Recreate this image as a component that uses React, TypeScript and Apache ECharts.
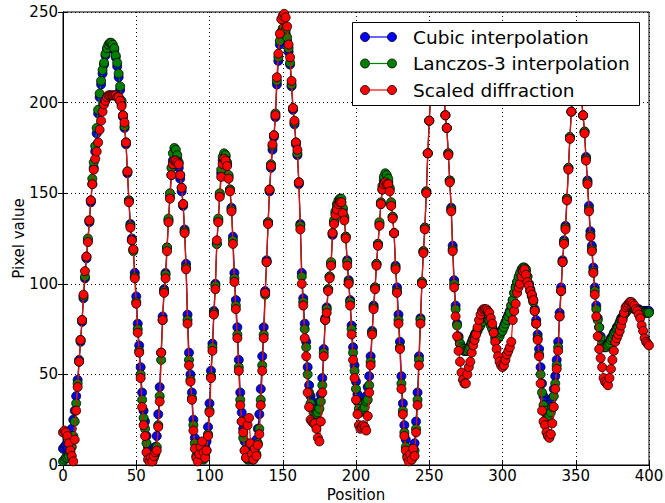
import React, { useEffect, useRef } from "react";
import * as echarts from "echarts";

// Series names and colours
const seriesNames = ["Cubic interpolation", "Lanczos-3 interpolation", "Scaled diffraction"];
const seriesColors = ["#0000ff", "#008000", "#ff0000"];

// Axis ticks
const xTicks = [0, 50, 100, 150, 200, 250, 300, 350, 400];
const yTicks = [0, 50, 100, 150, 200, 250];

// Pixel values at positions 0..400 (one value per position)
const cubic = [
  9, 10, 11, 10, 12, 16, 20, 25, 30, 38,
  47, 58, 68, 79, 92, 103, 114, 124, 134, 145,
  155, 164, 173, 183, 194, 203, 210, 216, 221, 226,
  229, 231, 232, 232, 231, 229, 225, 220, 214, 207,
  199, 192, 186, 177, 161, 146, 133, 125, 119, 106,
  93, 78, 66, 54, 40, 30, 24, 16, 10, 7,
  6, 6, 8, 10, 16, 28, 43, 62, 82, 97,
  106, 120, 135, 148, 160, 168, 172, 172, 169, 164,
  158, 151, 143, 130, 111, 83, 62, 50, 40, 25,
  15, 9, 7, 8, 10, 9, 8, 10, 13, 21,
  34, 52, 67, 85, 100, 122, 135, 149, 161, 168,
  171, 170, 166, 159, 152, 142, 126, 106, 91, 76,
  58, 40, 29, 20, 13, 9, 8, 8, 9, 8,
  9, 11, 14, 20, 28, 42, 60, 76, 96, 113,
  134, 151, 164, 174, 181, 192, 210, 223, 232, 236,
  238, 239, 238, 234, 228, 221, 209, 196, 188, 177,
  171, 155, 133, 106, 92, 78, 68, 54, 44, 38,
  35, 33, 32, 32, 33, 35, 39, 48, 64, 81,
  87, 97, 104, 111, 127, 134, 139, 142, 144, 145,
  145, 141, 136, 126, 113, 102, 91, 77, 65, 55,
  46, 39, 35, 33, 33, 34, 35, 38, 43, 49,
  60, 74, 88, 98, 111, 122, 133, 144, 152, 157,
  159, 158, 156, 152, 144, 137, 128, 110, 98, 83,
  68, 49, 34, 22, 14, 9, 7, 8, 7, 10,
  12, 24, 40, 60, 81, 101, 118, 131, 151, 172,
  190, 205, 217, 226, 232, 235, 236, 234, 228, 218,
  205, 193, 186, 172, 157, 142, 121, 102, 88, 78,
  71, 67, 65, 64, 63, 63, 64, 65, 66, 68,
  70, 72, 73, 75, 76, 78, 79, 81, 82, 83,
  83, 81, 78, 76, 74, 72, 71, 71, 72, 74,
  75, 77, 79, 81, 83, 85, 88, 91, 95, 98,
  101, 103, 105, 107, 108, 108, 107, 104, 100, 97,
  94, 91, 86, 80, 72, 64, 54, 45, 38, 35,
  33, 32, 32, 34, 37, 42, 49, 58, 68, 84,
  98, 113, 124, 132, 147, 164, 181, 195, 205, 211,
  214, 214, 211, 206, 201, 193, 184, 170, 157, 143,
  129, 121, 109, 98, 88, 81, 76, 71, 67, 66,
  66, 66, 67, 68, 70, 71, 73, 74, 76, 77,
  79, 81, 82, 84, 85, 86, 87, 87, 87, 87,
  87, 86, 86, 86, 85, 85, 85, 85, 85, 85,
  85,
];

const lanczos = [
  2, 3, 4, 4, 5, 7, 10, 16, 24, 34,
  45, 57, 69, 80, 93, 104, 115, 125, 135, 146,
  158, 167, 176, 186, 196, 205, 212, 218, 222, 227,
  230, 232, 233, 233, 232, 230, 226, 222, 216, 209,
  201, 193, 187, 178, 162, 146, 132, 124, 118, 104,
  90, 75, 63, 50, 36, 26, 20, 12, 6, 3,
  3, 2, 4, 6, 10, 22, 38, 58, 80, 96,
  105, 120, 136, 150, 164, 172, 175, 174, 171, 167,
  160, 153, 144, 129, 109, 80, 58, 47, 37, 22,
  12, 5, 3, 4, 6, 4, 3, 5, 8, 17,
  30, 49, 65, 84, 99, 122, 136, 150, 163, 170,
  172, 171, 167, 160, 152, 141, 124, 103, 88, 72,
  54, 36, 24, 15, 8, 4, 3, 3, 4, 3,
  3, 5, 6, 12, 20, 36, 55, 72, 94, 112,
  134, 152, 166, 176, 182, 194, 212, 225, 234, 239,
  241, 241, 240, 236, 230, 222, 210, 197, 189, 178,
  172, 156, 132, 104, 90, 75, 65, 50, 40, 34,
  31, 29, 28, 28, 29, 31, 35, 44, 62, 80,
  86, 97, 104, 112, 128, 135, 140, 144, 146, 147,
  147, 142, 137, 126, 112, 101, 90, 75, 62, 52,
  42, 35, 31, 29, 30, 31, 32, 35, 36, 44,
  57, 73, 87, 98, 111, 122, 134, 145, 154, 159,
  161, 160, 158, 153, 145, 137, 128, 109, 96, 80,
  65, 45, 30, 18, 10, 5, 3, 4, 3, 6,
  8, 20, 36, 58, 80, 101, 118, 131, 151, 172,
  190, 205, 217, 226, 232, 235, 236, 234, 228, 218,
  205, 193, 186, 172, 157, 141, 119, 100, 86, 77,
  70, 67, 65, 64, 63, 63, 63, 64, 65, 67,
  69, 71, 73, 74, 76, 77, 79, 81, 82, 83,
  83, 80, 77, 75, 73, 70, 69, 70, 71, 73,
  74, 76, 78, 80, 82, 84, 88, 91, 95, 98,
  101, 104, 106, 108, 109, 109, 108, 104, 100, 96,
  93, 90, 85, 78, 70, 61, 50, 40, 33, 30,
  28, 27, 27, 29, 32, 38, 45, 55, 65, 82,
  96, 112, 123, 131, 147, 164, 181, 195, 205, 211,
  214, 214, 211, 206, 201, 193, 184, 169, 156, 141,
  127, 119, 107, 96, 86, 80, 76, 70, 66, 65,
  65, 65, 66, 67, 69, 70, 72, 73, 75, 76,
  78, 80, 81, 83, 84, 85, 86, 87, 87, 87,
  86, 86, 85, 85, 85, 84, 84, 84, 84, 84,
  84,
];

const diffraction = [
  18, 19, 18, 16, 12, 8, 5, 2, 14, 30,
  43, 57, 69, 80, 94, 107, 115, 123, 135, 146,
  155, 163, 169, 173, 178, 185, 190, 195, 199, 201,
  203, 204, 204, 204, 204, 204, 204, 203, 203, 201,
  198, 193, 189, 178, 162, 145, 131, 124, 119, 103,
  89, 73, 62, 48, 32, 22, 16, 7, 3, 2,
  4, 2, 5, 7, 8, 21, 35, 62, 80, 95,
  103, 118, 134, 147, 160, 166, 168, 168, 167, 166,
  160, 153, 144, 128, 108, 78, 55, 46, 36, 19,
  9, 4, 2, 6, 10, 13, 7, 4, 8, 16,
  29, 48, 63, 83, 97, 124, 134, 148, 159, 166,
  169, 168, 165, 158, 151, 140, 122, 101, 86, 70,
  52, 33, 24, 18, 8, 4, 22, 26, 12, 6,
  3, 9, 5, 11, 17, 33, 52, 70, 95, 112,
  133, 152, 165, 177, 182, 193, 214, 227, 238, 246,
  248, 249, 247, 242, 232, 225, 212, 197, 190, 178,
  174, 156, 130, 100, 88, 70, 60, 40, 32, 25,
  24, 23, 23, 20, 15, 13, 24, 40, 60, 80,
  84, 96, 103, 110, 128, 133, 138, 141, 144, 145,
  145, 139, 135, 125, 110, 100, 88, 72, 58, 48,
  36, 28, 22, 20, 21, 22, 21, 19, 27, 40,
  55, 72, 86, 97, 110, 121, 132, 144, 152, 155,
  156, 155, 155, 151, 143, 136, 128, 108, 95, 78,
  64, 42, 28, 16, 8, 4, 2, 6, 3, 9,
  5, 18, 33, 55, 78, 100, 117, 130, 150, 172,
  190, 205, 217, 226, 232, 235, 236, 234, 228, 218,
  205, 193, 186, 171, 156, 140, 118, 98, 82, 71,
  63, 57, 51, 47, 45, 45, 50, 54, 57, 62,
  66, 69, 72, 76, 80, 83, 85, 86, 86, 86,
  85, 84, 81, 78, 73, 68, 64, 60, 57, 55,
  54, 55, 58, 61, 63, 65, 68, 80, 85, 89,
  95, 98, 100, 104, 107, 108, 105, 101, 99, 96,
  94, 91, 85, 78, 69, 60, 45, 30, 24, 22,
  18, 16, 15, 17, 23, 32, 42, 53, 63, 82,
  96, 112, 122, 130, 146, 163, 180, 195, 205, 211,
  214, 214, 211, 206, 201, 193, 183, 168, 155, 140,
  126, 118, 106, 94, 82, 71, 64, 59, 54, 48,
  46, 45, 44, 48, 53, 58, 63, 68, 70, 72,
  74, 77, 80, 84, 87, 88, 89, 90, 90, 89,
  88, 86, 85, 83, 81, 77, 74, 70, 68, 67,
  66,
];

const seriesValues = [cubic, lanczos, diffraction];

const FONT = '"DejaVu Sans", "Liberation Sans", sans-serif';

export default function App() {
  const ref = useRef<HTMLDivElement>(null);

  useEffect(() => {
    if (!ref.current) return;
    document.body.style.margin = "0";
    const chart = echarts.init(ref.current, undefined, { renderer: "svg", width: 665, height: 503 });

    const axisCommon = {
      type: "value" as const,
      axisLine: { show: true, lineStyle: { color: "#000", width: 1 } },
      axisTick: { show: true, inside: true, length: 5, lineStyle: { color: "#000", width: 1 } },
    };

    const series = seriesValues.map((vals, si) => ({
      type: "line",
      name: seriesNames[si],
      data: vals.map((v, i) => [i, v]),
      symbol: "circle",
      symbolSize: 9,
      showSymbol: true,
      showAllSymbol: true,
      clip: true,
      xAxisIndex: 0,
      yAxisIndex: 0,
      itemStyle: { color: seriesColors[si], borderColor: "#000", borderWidth: 0.8 },
      lineStyle: { color: seriesColors[si], width: 1.2 },
      emphasis: { disabled: true },
      z: 2 + si,
    }));

    // Legend drawn as graphic (line with two markers, like matplotlib)
    const legX = 352.5;
    const legY = 22.5;
    const rowYs = [37, 63.5, 90];
    const legendEls: any[] = [
      {
        type: "rect",
        shape: { x: legX, y: legY, width: 287, height: 83 },
        style: { fill: "#fff", stroke: "#000", lineWidth: 1 },
        z: 100,
      },
    ];
    seriesNames.forEach((name, i) => {
      const y = rowYs[i];
      legendEls.push({
        type: "line",
        shape: { x1: 365, y1: y, x2: 392, y2: y },
        style: { stroke: seriesColors[i], lineWidth: 1.2 },
        z: 101,
      });
      [365, 392].forEach((cx) =>
        legendEls.push({
          type: "circle",
          shape: { cx, cy: y, r: 4.5 },
          style: { fill: seriesColors[i], stroke: "#000", lineWidth: 0.8 },
          z: 102,
        })
      );
      legendEls.push({
        type: "text",
        x: 413,
        y,
        style: {
          text: name,
          fill: "#000",
          fontSize: 18.5,
          fontFamily: FONT,
          verticalAlign: "middle",
          align: "left",
        },
        z: 102,
      });
    });

    chart.setOption({
      animation: false,
      backgroundColor: "#fff",
      textStyle: { fontFamily: FONT },
      grid: {
        left: 63,
        top: 12,
        right: 16,
        bottom: 38,
        containLabel: false,
        outerBoundsMode: "none",
        show: true,
        borderColor: "#000",
        borderWidth: 1,
        backgroundColor: "transparent",
      },
      xAxis: [
        {
          ...axisCommon,
          position: "bottom",
          min: xTicks[0],
          max: xTicks[xTicks.length - 1],
          interval: 50,
          name: "Position",
          nameLocation: "middle",
          nameGap: 22,
          nameMoveOverlap: false,
          nameTextStyle: { fontSize: 15, color: "#000", fontFamily: FONT },
          axisLabel: { fontSize: 15, color: "#000", margin: 3, fontFamily: FONT },
          splitLine: { show: true, lineStyle: { color: "#000", width: 1, type: [1, 3] } },
        },
        {
          ...axisCommon,
          position: "top",
          min: xTicks[0],
          max: xTicks[xTicks.length - 1],
          interval: 50,
          axisLabel: { show: false },
          splitLine: { show: false },
        },
      ],
      yAxis: [
        {
          ...axisCommon,
          position: "left",
          min: yTicks[0],
          max: yTicks[yTicks.length - 1],
          interval: 50,
          name: "Pixel value",
          nameLocation: "middle",
          nameGap: 37,
          nameMoveOverlap: false,
          nameTextStyle: { fontSize: 15, color: "#000", fontFamily: FONT },
          axisLabel: { fontSize: 15, color: "#000", margin: 5, fontFamily: FONT },
          splitLine: { show: true, lineStyle: { color: "#000", width: 1, type: [1, 3] } },
        },
        {
          ...axisCommon,
          position: "right",
          min: yTicks[0],
          max: yTicks[yTicks.length - 1],
          interval: 50,
          axisLabel: { show: false },
          splitLine: { show: false },
        },
      ],
      series,
      graphic: { elements: legendEls },
    });

    return () => {
      chart.dispose();
    };
  }, []);

  return <div ref={ref} style={{ width: 665, height: 503, background: "#fff" }} />;
}
